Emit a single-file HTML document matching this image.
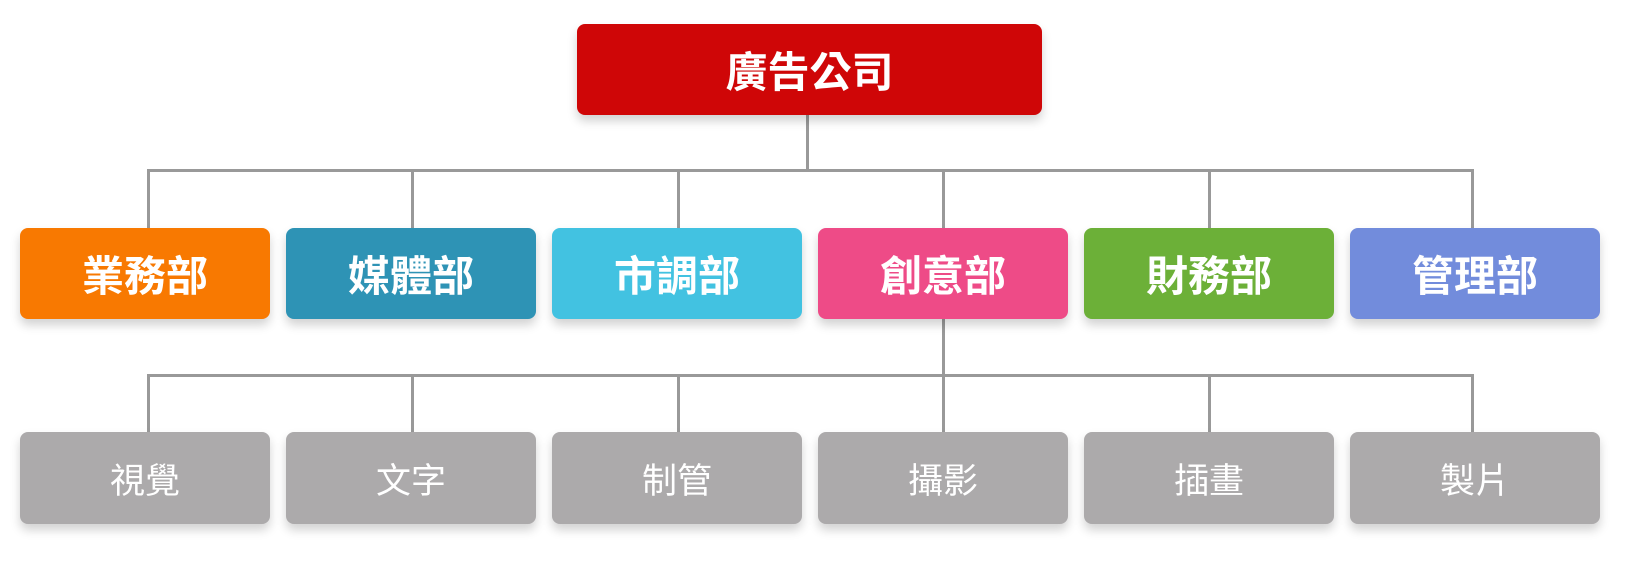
<!DOCTYPE html>
<html><head><meta charset="utf-8"><style>
html,body{margin:0;padding:0;background:#fff;}
body{width:1626px;height:566px;position:relative;overflow:hidden;font-family:"Liberation Sans","Noto Sans CJK TC",sans-serif;}
.b{position:absolute;border-radius:8px;color:#fff;display:flex;align-items:center;justify-content:center;box-shadow:0 6px 10px rgba(0,0,0,0.18);}
.d{top:228px;width:250px;height:91px;font-weight:bold;font-size:42px;}
.s{top:432px;width:250px;height:92px;background:#acaaab;font-size:35px;}
.l{position:absolute;background:#999;}
</style></head><body>
<div class="l" style="left:806px;top:115px;width:3px;height:57px"></div>
<div class="l" style="left:147px;top:169px;width:1326px;height:3px"></div>
<div class="l" style="left:147px;top:169px;width:3px;height:60px"></div>
<div class="l" style="left:411px;top:169px;width:3px;height:60px"></div>
<div class="l" style="left:677px;top:169px;width:3px;height:60px"></div>
<div class="l" style="left:942px;top:169px;width:3px;height:60px"></div>
<div class="l" style="left:1208px;top:169px;width:3px;height:60px"></div>
<div class="l" style="left:1471px;top:169px;width:3px;height:60px"></div>
<div class="l" style="left:942px;top:319px;width:3px;height:57px"></div>
<div class="l" style="left:147px;top:374px;width:1326px;height:3px"></div>
<div class="l" style="left:147px;top:374px;width:3px;height:59px"></div>
<div class="l" style="left:411px;top:374px;width:3px;height:59px"></div>
<div class="l" style="left:677px;top:374px;width:3px;height:59px"></div>
<div class="l" style="left:942px;top:374px;width:3px;height:59px"></div>
<div class="l" style="left:1208px;top:374px;width:3px;height:59px"></div>
<div class="l" style="left:1471px;top:374px;width:3px;height:59px"></div>
<div class="b" style="left:577px;top:24px;width:465px;height:91px;background:#cf0607;font-weight:bold;font-size:42px;">廣告公司</div>
<div class="b d" style="left:20px;background:#f87901;">業務部</div>
<div class="b d" style="left:286px;background:#2e93b5;">媒體部</div>
<div class="b d" style="left:552px;background:#42c2e1;">市調部</div>
<div class="b d" style="left:818px;background:#ee4b87;">創意部</div>
<div class="b d" style="left:1084px;background:#6cb038;">財務部</div>
<div class="b d" style="left:1350px;background:#728cdc;">管理部</div>
<div class="b s" style="left:20px;">視覺</div>
<div class="b s" style="left:286px;">文字</div>
<div class="b s" style="left:552px;">制管</div>
<div class="b s" style="left:818px;">攝影</div>
<div class="b s" style="left:1084px;">插畫</div>
<div class="b s" style="left:1350px;">製片</div>
</body></html>
